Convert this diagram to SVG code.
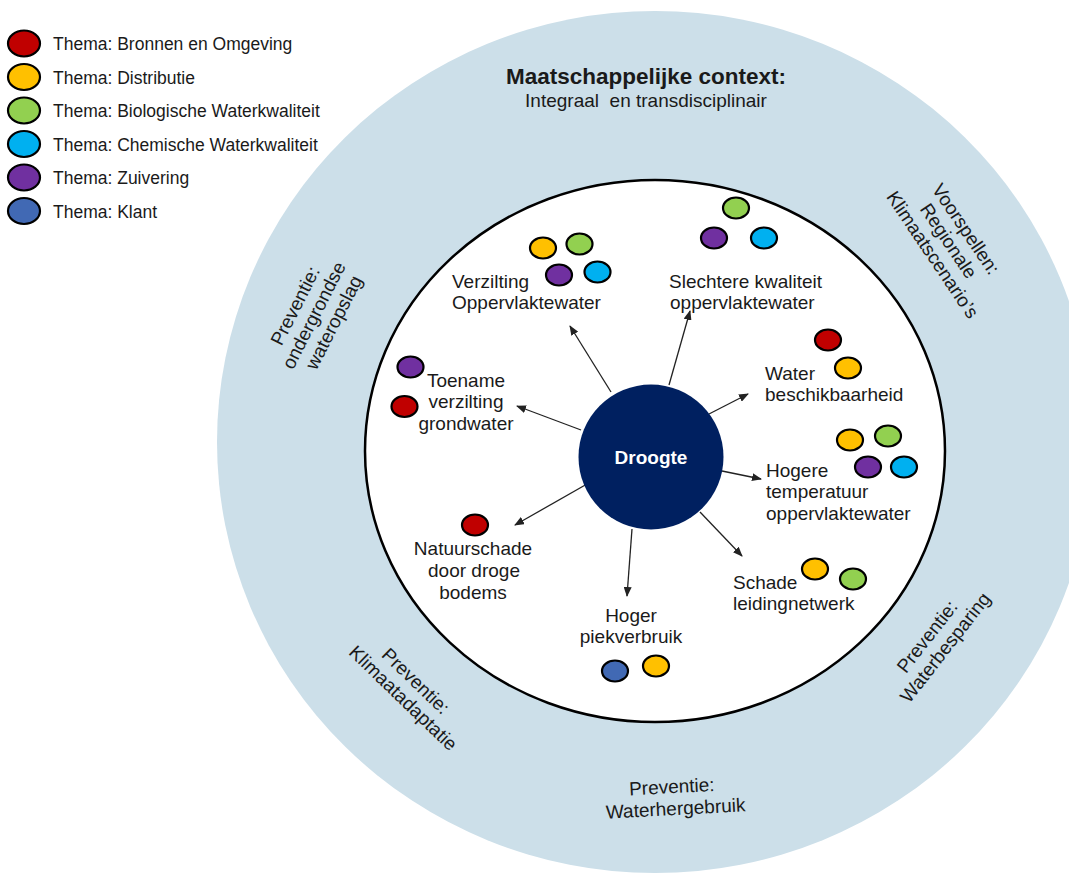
<svg xmlns="http://www.w3.org/2000/svg" width="1069" height="875" viewBox="0 0 1069 875">
  <style>
    .lbl { font-family: "Liberation Sans", Arial, sans-serif; font-size: 19px; fill: #1a1a1a; }
    .leg { font-family: "Liberation Sans", Arial, sans-serif; font-size: 17.5px; fill: #1a1a1a; }
    .dot { stroke: #000; stroke-width: 2.2; }
    .c-red { fill: #C00000; }
    .c-org { fill: #FFC000; }
    .c-grn { fill: #92D050; }
    .c-cyn { fill: #00B0F0; }
    .c-pur { fill: #7030A0; }
    .c-blu { fill: #4169B4; }
    .edge { stroke: #222; stroke-width: 1.3; fill: none; marker-end: url(#arrow); }
  </style>
  <defs>
    <marker id="arrow" markerUnits="userSpaceOnUse" markerWidth="10" markerHeight="8" refX="9" refY="4" orient="auto">
      <path d="M0,0 L10,4 L0,8 Z" fill="#222"/>
    </marker>
  </defs>

  <rect width="1069" height="875" fill="#ffffff"/>

  <!-- outer ring: societal context -->
  <g id="context">
    <ellipse cx="655" cy="442" rx="438" ry="431" fill="#CCDFE9"/>
    <text class="lbl" x="646" y="84" text-anchor="middle" style="font-weight:bold;font-size:22.5px">Maatschappelijke context:</text>
    <text class="lbl" x="646" y="107" text-anchor="middle" xml:space="preserve">Integraal  en transdisciplinair</text>
  </g>

  <!-- inner white field -->
  <ellipse id="field" cx="655" cy="451" rx="290" ry="271" fill="#ffffff" stroke="#000" stroke-width="2.5"/>

  <!-- ring labels -->
  <g id="ring-voorspellen">
    <text class="lbl" transform="translate(950,243) rotate(56)" text-anchor="middle">
      <tspan x="0" y="-14.5">Voorspellen:</tspan>
      <tspan x="0" y="6.5">Regionale</tspan>
      <tspan x="0" y="27.5">Klimaatscenario’s</tspan>
    </text>
  </g>
  <g id="ring-wateropslag">
    <text class="lbl" transform="translate(315,313) rotate(-63)" text-anchor="middle">
      <tspan x="0" y="-14.5">Preventie:</tspan>
      <tspan x="0" y="6.5">ondergrondse</tspan>
      <tspan x="0" y="27.5">wateropslag</tspan>
    </text>
  </g>
  <g id="ring-klimaatadaptatie">
    <text class="lbl" transform="translate(410.5,690.5) rotate(44)" text-anchor="middle">
      <tspan x="0" y="-4">Preventie:</tspan>
      <tspan x="0" y="17">Klimaatadaptatie</tspan>
    </text>
  </g>
  <g id="ring-waterbesparing">
    <text class="lbl" transform="translate(937,641) rotate(-52)" text-anchor="middle">
      <tspan x="0" y="-4">Preventie:</tspan>
      <tspan x="0" y="17">Waterbesparing</tspan>
    </text>
  </g>
  <g id="ring-waterhergebruik">
    <text class="lbl" transform="translate(675,797) rotate(-3)" text-anchor="middle">
      <tspan x="0" y="-4">Preventie:</tspan>
      <tspan x="0" y="18">Waterhergebruik</tspan>
    </text>
  </g>

  <!-- connectors -->
  <g id="connectors">
    <path class="edge" d="M611,392 L570,326"/>
    <path class="edge" d="M669,385 L690,311"/>
    <path class="edge" d="M709,414 L748,394"/>
    <path class="edge" d="M722,471 L761,479"/>
    <path class="edge" d="M700,512 L742,556"/>
    <path class="edge" d="M632,529 L627,596"/>
    <path class="edge" d="M587,484 L515,525"/>
    <path class="edge" d="M581,430 L517,406"/>
  </g>

  <!-- central node -->
  <g id="droogte">
    <circle cx="651" cy="457" r="72.5" fill="#002060"/>
    <text x="651" y="463.5" text-anchor="middle" style="font-family:'Liberation Sans',Arial,sans-serif;font-size:19px;font-weight:bold;fill:#ffffff">Droogte</text>
  </g>

  <!-- effect nodes -->
  <g id="verzilting-oppervlaktewater">
    <ellipse class="dot c-org" cx="543" cy="248" rx="13" ry="10.5"/>
    <ellipse class="dot c-grn" cx="579.5" cy="244" rx="13" ry="10.5"/>
    <ellipse class="dot c-pur" cx="559" cy="275" rx="13" ry="10.5"/>
    <ellipse class="dot c-cyn" cx="597.5" cy="272" rx="13" ry="10.5"/>
    <text class="lbl"><tspan x="452" y="288">Verzilting</tspan><tspan x="452" y="309">Oppervlaktewater</tspan></text>
  </g>

  <g id="slechtere-kwaliteit">
    <ellipse class="dot c-grn" cx="736" cy="208" rx="13" ry="10.5"/>
    <ellipse class="dot c-pur" cx="714" cy="238" rx="13" ry="10.5"/>
    <ellipse class="dot c-cyn" cx="764" cy="238" rx="13" ry="10.5"/>
    <text class="lbl"><tspan x="669" y="288">Slechtere kwaliteit</tspan><tspan x="670" y="309">oppervlaktewater</tspan></text>
  </g>

  <g id="water-beschikbaarheid">
    <ellipse class="dot c-red" cx="828" cy="340" rx="13" ry="10.5"/>
    <ellipse class="dot c-org" cx="848" cy="368" rx="13" ry="10.5"/>
    <text class="lbl"><tspan x="765" y="380">Water</tspan><tspan x="765" y="401">beschikbaarheid</tspan></text>
  </g>

  <g id="hogere-temperatuur">
    <ellipse class="dot c-org" cx="850" cy="440" rx="13" ry="10.5"/>
    <ellipse class="dot c-grn" cx="888" cy="436" rx="13" ry="10.5"/>
    <ellipse class="dot c-pur" cx="868" cy="467" rx="13" ry="10.5"/>
    <ellipse class="dot c-cyn" cx="904" cy="467" rx="13" ry="10.5"/>
    <text class="lbl"><tspan x="766" y="477">Hogere</tspan><tspan x="766" y="498">temperatuur</tspan><tspan x="766" y="520">oppervlaktewater</tspan></text>
  </g>

  <g id="schade-leidingnetwerk">
    <ellipse class="dot c-org" cx="815" cy="569" rx="13" ry="10.5"/>
    <ellipse class="dot c-grn" cx="853" cy="579" rx="13" ry="10.5"/>
    <text class="lbl"><tspan x="733" y="589">Schade</tspan><tspan x="733" y="610">leidingnetwerk</tspan></text>
  </g>

  <g id="hoger-piekverbruik">
    <ellipse class="dot c-blu" cx="615" cy="671" rx="13" ry="10.5"/>
    <ellipse class="dot c-org" cx="656" cy="666" rx="13" ry="10.5"/>
    <text class="lbl" text-anchor="middle"><tspan x="631" y="622">Hoger</tspan><tspan x="631" y="643">piekverbruik</tspan></text>
  </g>

  <g id="natuurschade">
    <ellipse class="dot c-red" cx="475" cy="525" rx="13" ry="10.5"/>
    <text class="lbl" text-anchor="middle"><tspan x="473" y="555">Natuurschade</tspan><tspan x="474" y="577">door droge</tspan><tspan x="473" y="599">bodems</tspan></text>
  </g>

  <g id="toename-verzilting">
    <ellipse class="dot c-pur" cx="410.5" cy="367" rx="13" ry="10.5"/>
    <ellipse class="dot c-red" cx="404.5" cy="406.5" rx="13" ry="10.5"/>
    <text class="lbl" text-anchor="middle"><tspan x="466" y="387">Toename</tspan><tspan x="466" y="408">verzilting</tspan><tspan x="466" y="430">grondwater</tspan></text>
  </g>

  <!-- legend -->
  <g id="legend">
    <ellipse class="dot c-red" cx="24" cy="43.5" rx="16" ry="13"/>
    <text class="leg" x="53" y="50">Thema: Bronnen en Omgeving</text>
    <ellipse class="dot c-org" cx="24" cy="77" rx="16" ry="13"/>
    <text class="leg" x="53" y="83.5">Thema: Distributie</text>
    <ellipse class="dot c-grn" cx="24" cy="110.5" rx="16" ry="13"/>
    <text class="leg" x="53" y="117">Thema: Biologische Waterkwaliteit</text>
    <ellipse class="dot c-cyn" cx="24" cy="144" rx="16" ry="13"/>
    <text class="leg" x="53" y="150.5">Thema: Chemische Waterkwaliteit</text>
    <ellipse class="dot c-pur" cx="24" cy="177.5" rx="16" ry="13"/>
    <text class="leg" x="53" y="184">Thema: Zuivering</text>
    <ellipse class="dot c-blu" cx="24" cy="211" rx="16" ry="13"/>
    <text class="leg" x="53" y="217.5">Thema: Klant</text>
  </g>
</svg>
